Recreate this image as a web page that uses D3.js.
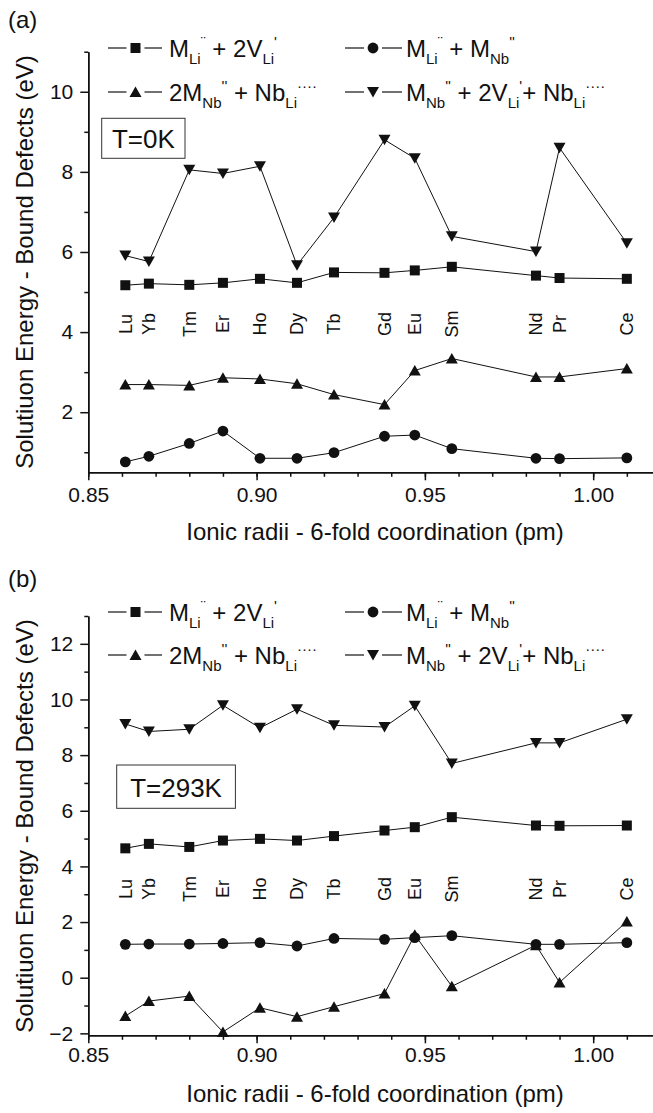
<!DOCTYPE html>
<html>
<head>
<meta charset="utf-8">
<script src="https://cdn.jsdelivr.net/npm/d3@7"></script>
<style>
body { margin: 0; background: #fff; }
text { font-family: "Liberation Sans", Arial, Helvetica, sans-serif; fill: #111; }
</style>
</head>
<body>
<script>
// lanthanides and their 6-fold ionic radii
const elements = ["Lu", "Yb", "Tm", "Er", "Ho", "Dy", "Tb", "Gd", "Eu", "Sm", "Nd", "Pr", "Ce"];
const radii = [0.861, 0.868, 0.880, 0.890, 0.901, 0.912, 0.923, 0.938, 0.947, 0.958, 0.983, 0.990, 1.010];

// (a) T = 0K
const a_MLi_2VLi = [5.17, 5.21, 5.18, 5.23, 5.33, 5.23, 5.49, 5.48, 5.54, 5.63, 5.41, 5.35, 5.33];
const a_MLi_MNb = [0.76, 0.90, 1.22, 1.53, 0.85, 0.85, 0.99, 1.40, 1.43, 1.09, 0.85, 0.84, 0.86];
const a_2MNb_NbLi = [2.69, 2.69, 2.67, 2.86, 2.83, 2.71, 2.44, 2.19, 3.04, 3.34, 2.88, 2.88, 3.09];
const a_MNb_2VLi_NbLi = [5.91, 5.76, 8.05, 7.96, 8.14, 5.67, 6.86, 8.80, 8.34, 6.39, 6.01, 8.60, 6.22];

// (b) T = 293K
const b_MLi_2VLi = [4.65, 4.81, 4.70, 4.93, 4.99, 4.93, 5.09, 5.29, 5.41, 5.77, 5.47, 5.46, 5.47];
const b_MLi_MNb = [1.20, 1.21, 1.21, 1.23, 1.26, 1.14, 1.41, 1.38, 1.44, 1.51, 1.20, 1.20, 1.26];
const b_2MNb_NbLi = [-1.38, -0.84, -0.66, -1.95, -1.08, -1.40, -1.04, -0.57, 1.54, -0.31, 1.17, -0.17, 2.02];
const b_MNb_2VLi_NbLi = [9.12, 8.85, 8.93, 9.79, 8.98, 9.65, 9.07, 9.01, 9.77, 7.70, 8.44, 8.44, 9.29];

// tick values
const xMajor = [0.85, 0.90, 0.95, 1.00];
const xMinor = d3.range(0.85, 1.025, 0.01);
const a_yMajor = [2, 4, 6, 8, 10];
const a_yMinor = [1, 3, 5, 7, 9, 11];
const b_yMajor = [-2, 0, 2, 4, 6, 8, 10, 12];
const b_yMinor = [-1, 1, 3, 5, 7, 9, 11, 13];

// legend labels: [text, "", "sub" or "sup"]
const legendLabels = [
  [["M", ""], ["Li", "sub"], ["\u00a8", "sup"], [" + 2V", ""], ["Li", "sub"], ["'", "sup"]],
  [["M", ""], ["Li", "sub"], ["\u00a8", "sup"], [" + M", ""], ["Nb", "sub"], ["''", "sup"]],
  [["2M", ""], ["Nb", "sub"], ["''", "sup"], [" + Nb", ""], ["Li", "sub"], ["\u00b7\u00b7\u00b7\u00b7", "sup"]],
  [["M", ""], ["Nb", "sub"], ["''", "sup"], [" + 2V", ""], ["Li", "sub"], ["'", "sup"], ["+ Nb", ""], ["Li", "sub"], ["\u00b7\u00b7\u00b7\u00b7", "sup"]]
];
const symbols = ["square", "circle", "up", "down"];

const W = 653, H = 1113;
const svg = d3.select("body").append("svg").attr("width", W).attr("height", H);

var x = d3.scaleLinear().domain([0.85, 1.02]).range([88.3, 660.5]);

function marker(g, type, cx, cy) {
  if (type == "square") {
    g.append("rect").attr("x", cx - 5).attr("y", cy - 5).attr("width", 10).attr("height", 10).attr("fill", "#111");
  } else if (type == "circle") {
    g.append("circle").attr("cx", cx).attr("cy", cy).attr("r", 5.4).attr("fill", "#111");
  } else if (type == "up") {
    g.append("path").attr("d", `M${cx},${cy - 5.5}L${cx + 6},${cy + 5}L${cx - 6},${cy + 5}Z`).attr("fill", "#111");
  } else {
    g.append("path").attr("d", `M${cx},${cy + 5.5}L${cx + 6},${cy - 5}L${cx - 6},${cy - 5}Z`).attr("fill", "#111");
  }
}

function richText(g, parts, tx, ty, size) {
  var t = g.append("text").attr("x", tx).attr("y", ty).attr("font-size", size);
  var cur = 0;
  parts.forEach(p => {
    var off = p[1] == "sub" ? 7 : p[1] == "sup" ? -10 : 0;
    t.append("tspan")
      .attr("dy", off - cur)
      .attr("font-size", p[1] ? 15 : size)
      .style("white-space", "pre")
      .text(p[0]);
    cur = off;
  });
}

function drawPanel(p) {
  var y = d3.scaleLinear().domain(p.yDomain).range(p.yRange);
  var g = svg.append("g");
  var x0 = x.range()[0], yb = p.yRange[0];

  // axes
  var ax = g.append("g").attr("transform", `translate(0,${yb})`)
    .call(d3.axisBottom(x).tickValues(xMajor).tickFormat(d3.format(".2f")).tickSize(8).tickPadding(p.xPad).tickSizeOuter(0));
  g.append("g").attr("transform", `translate(0,${yb})`)
    .call(d3.axisBottom(x).tickValues(xMinor).tickFormat("").tickSize(4.5).tickSizeOuter(0));
  var ay = g.append("g").attr("transform", `translate(${x0},0)`)
    .call(d3.axisLeft(y).tickValues(p.yMajor).tickSize(8).tickPadding(7).tickSizeOuter(0));
  g.append("g").attr("transform", `translate(${x0},0)`)
    .call(d3.axisLeft(y).tickValues(p.yMinor).tickFormat("").tickSize(4).tickSizeOuter(0));
  g.selectAll(".domain, .tick line").attr("stroke", "#111").attr("stroke-width", 1.5);
  g.selectAll(".tick text").attr("font-size", 21).attr("fill", "#111")
    .attr("font-family", "Liberation Sans, Arial, sans-serif");

  // series
  var line = d3.line().x((d, i) => x(radii[i])).y(d => y(d));
  p.series.forEach((s, k) => {
    g.append("path").datum(s).attr("d", line).attr("fill", "none").attr("stroke", "#111").attr("stroke-width", 1);
    s.forEach((v, i) => marker(g, symbols[k], x(radii[i]), y(v)));
  });

  // element labels
  elements.forEach((e, i) => {
    g.append("text").attr("transform", `translate(${x(radii[i])},${p.labelY}) rotate(-90)`)
      .attr("text-anchor", "middle").attr("dy", "0.36em").attr("font-size", 18).text(e);
  });

  // legend
  var cols = [[108, 135.5, 162, 169], [345, 373, 402, 406]];
  legendLabels.forEach((lab, k) => {
    var c = cols[k % 2], ly = p.legendY[Math.floor(k / 2)];
    g.append("line").attr("x1", c[0]).attr("x2", c[1] - 9).attr("y1", ly).attr("y2", ly).attr("stroke", "#111").attr("stroke-width", 1.2);
    g.append("line").attr("x1", c[1] + 9).attr("x2", c[2]).attr("y1", ly).attr("y2", ly).attr("stroke", "#111").attr("stroke-width", 1.2);
    marker(g, symbols[k], c[1], ly);
    richText(g, lab, c[3], ly + 8.5, 24);
  });

  // temperature box
  g.append("rect").attr("x", p.box[0]).attr("y", p.box[1]).attr("width", p.box[2]).attr("height", p.box[3])
    .attr("fill", "#fff").attr("stroke", "#333").attr("stroke-width", 1);
  g.append("text").attr("x", p.box[0] + p.box[2] / 2).attr("y", p.boxTextY).attr("text-anchor", "middle")
    .attr("font-size", 26).text(p.tLabel);

  // titles
  g.append("text").attr("x", 375).attr("y", p.xTitleY).attr("text-anchor", "middle").attr("font-size", 24)
    .text("Ionic radii - 6-fold coordination (pm)");
  g.append("text").attr("transform", `translate(33,${p.yTitleC}) rotate(-90)`).attr("text-anchor", "middle")
    .attr("font-size", 24).text("Solutiuon Energy - Bound Defects (eV)");
  g.append("text").attr("x", 8).attr("y", p.tagY).attr("font-size", 24).text(p.tag);
}

drawPanel({
  yDomain: [0.5, 11], yRange: [472.3, 51.7], yMajor: a_yMajor, yMinor: a_yMinor,
  series: [a_MLi_2VLi, a_MLi_MNb, a_2MNb_NbLi, a_MNb_2VLi_NbLi],
  labelY: 324, legendY: [48, 92], xPad: 7, xTitleY: 540, yTitleC: 262,
  box: [101.7, 118.3, 83.3, 40], boxTextY: 147.5, tLabel: "T=0K", tag: "(a)", tagY: 28
});
drawPanel({
  yDomain: [-2.07, 13], yRange: [1035.3, 616], yMajor: b_yMajor, yMinor: b_yMinor,
  series: [b_MLi_2VLi, b_MLi_MNb, b_2MNb_NbLi, b_MNb_2VLi_NbLi],
  labelY: 889, legendY: [612, 655], xPad: 4, xTitleY: 1101.5, yTitleC: 826,
  box: [116.7, 765, 118.7, 43.3], boxTextY: 797, tLabel: "T=293K", tag: "(b)", tagY: 587
});
</script>
</body>
</html>
